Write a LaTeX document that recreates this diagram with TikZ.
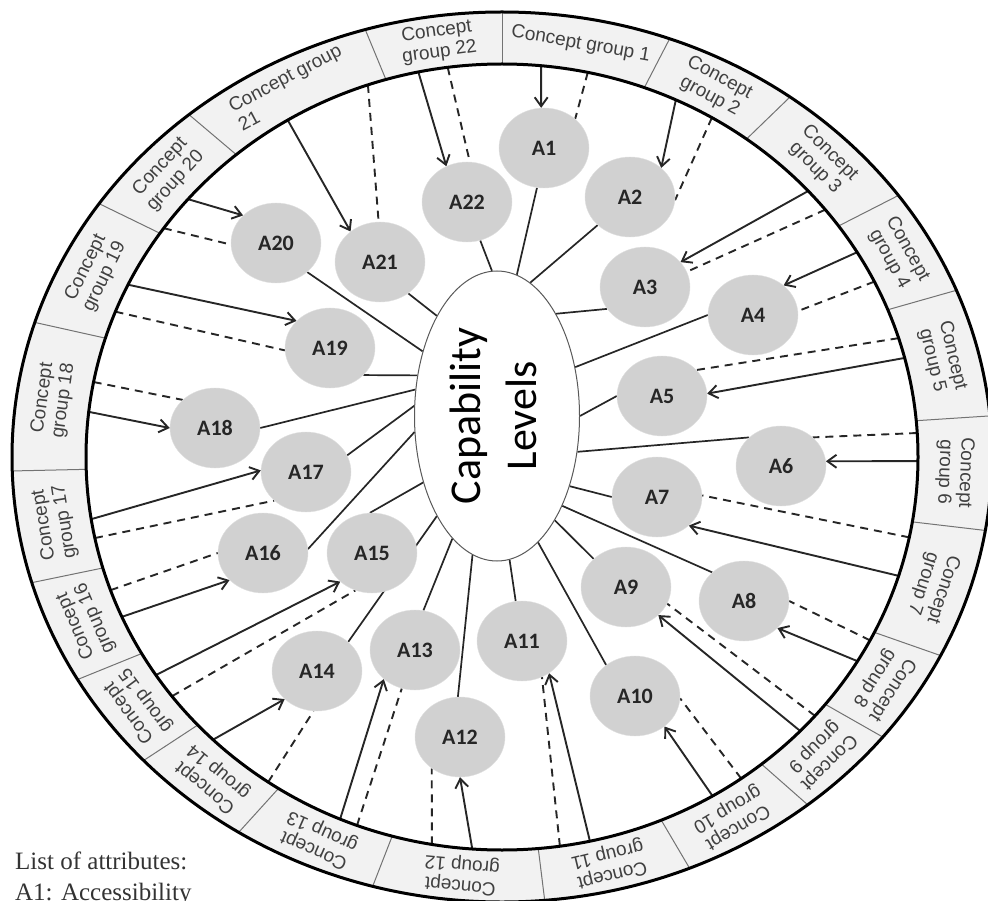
\documentclass[tikz,border=0pt]{standalone}
\usepackage{fontspec}
\setmainfont{Liberation Serif}
\newfontfamily\ringfont{Liberation Sans}
\newfontfamily\calfont{Carlito}
\usepackage{graphicx}
\usetikzlibrary{arrows.meta, shapes.geometric}
\pgfdeclarelayer{background}
\pgfsetlayers{background,main}

\begin{document}
\begin{tikzpicture}[
    x=1pt, y=1pt,
    >={Straight Barb[length=9pt, width=13pt]},
    attr/.style={draw=black!12, fill=black!18, ellipse, inner sep=0pt,
                 minimum width=90pt, minimum height=80pt,
                 font=\calfont\bfseries\fontsize{22}{26}\selectfont, text=black!85},
    capnode/.style={draw=black!65, line width=1pt, fill=white, ellipse,
                    inner sep=0pt, minimum width=165pt, minimum height=290pt,
                    font=\calfont\fontsize{44}{56}\selectfont},
    grouplabel/.style={font=\ringfont\fontsize{19}{21}\selectfont,
                       text=black!75, inner sep=0pt},
    link/.style={->, line width=1.9pt, black!85},
    weak/.style={line width=1.9pt, black!85, dash pattern=on 8pt off 6pt},
    spoke/.style={line width=1.7pt, black!85}
  ]
  \useasboundingbox (0,0) rectangle (988,-901);

  % Ring of concept groups
  \begin{scope}[shift={(502,-457)}]
    \fill[black!5, even odd rule] (0,0) ellipse [x radius=490pt, y radius=445pt]
                                  (0,0) ellipse [x radius=416pt, y radius=393pt];
    \foreach \s in {90,70,54,36,22,5.3,-9.5,-26.5,-39,-51.4,-67.5,-85,-105.3,
                    -122.5,-137,-150,-163.6,-178.2,-197.6,-214.7,-230.3,-253.8}
      \draw[black!55, line width=1pt] (\s:416pt and 393pt) -- (\s:490pt and 445pt);
    \draw[line width=3pt] (0,0) ellipse [x radius=490pt, y radius=445pt];
    \draw[line width=3pt] (0,0) ellipse [x radius=416pt, y radius=393pt];

    \foreach \k/\a/\t/\al in {1/80/{Concept group 1}/center,
        2/62/{Concept\\group 2}/center, 3/45/{Concept\\group 3}/center,
        4/29/{Concept\\group 4}/center, 5/13.65/{Concept\\group 5}/center,
        6/-2.1/{Concept\\group 6}/center, 7/-18/{Concept\\group 7}/center,
        8/-32.75/{Concept\\group 8}/center, 9/-45.2/{Concept\\group 9}/center,
        10/-59.45/{Concept\\group 10}/center, 11/-76.25/{Concept\\group 11}/center,
        12/-95.15/{Concept\\group 12}/center, 13/-113.9/{Concept\\group 13}/center,
        14/-129.75/{Concept\\group 14}/center, 15/-143.5/{Concept\\group 15}/center,
        16/-156.8/{Concept\\group 16}/center, 17/-170.9/{Concept\\group 17}/center,
        18/-187.9/{Concept\\group 18}/center, 19/-206.15/{Concept\\group 19}/center,
        20/-222.5/{Concept\\group 20}/center, 21/-242.05/{Concept group\\21}/left,
        22/-261.9/{Concept\\group 22}/center}
      \node[grouplabel, align=\al, rotate=\a-90] (cg\k) at (\a:453pt and 419pt) {\t};

    % where the links leave the ring
    \foreach \k/\s/\d in {1/84.6/78.1, 2/65.3/59.7, 3/42.6/39, 4/31.4/26.5,
        5/14.6/17.6, 6/-0.6/3.5, 7/-17.6/-11.8, 8/-31.3/-27.8, 9/-44.2/-41.2,
        10/-59.6/-54.9, 11/-77.8/-82, 12/-94.1/-99.7, 13/-112.9/-110.4,
        14/-134/-124.2, 15/-146.3/-142.5, 16/-156/-160.2, 17/-170.9/-168.1,
        18/173.4/169, 19/154/158.3, 20/139/144.4, 21/121/108.8, 22/101.6/97.5} {
      \coordinate (s\k) at (\s:416pt and 393pt);
      \coordinate (d\k) at (\d:416pt and 393pt);
    }
  \end{scope}

  % Centre
  \node[capnode] (cap) at (497,-416)
    {\rotatebox{90}{\begin{tabular}{@{}c@{}}Capability\\Levels\end{tabular}}};

  % Attributes
  \node[attr] (A1) at (544,-148) {A1};
  \node[attr] (A2) at (630,-197) {A2};
  \node[attr] (A3) at (645,-287) {A3};
  \node[attr] (A4) at (753,-315) {A4};
  \node[attr] (A5) at (662,-396) {A5};
  \node[attr] (A6) at (781,-466) {A6};
  \node[attr] (A7) at (657,-497) {A7};
  \node[attr] (A8) at (744,-601) {A8};
  \node[attr] (A9) at (626,-587) {A9};
  \node[attr] (A10) at (635,-696) {A10};
  \node[attr] (A11) at (522,-641) {A11};
  \node[attr] (A12) at (460,-737) {A12};
  \node[attr] (A13) at (415,-650) {A13};
  \node[attr] (A14) at (317,-671) {A14};
  \node[attr] (A15) at (372,-553) {A15};
  \node[attr] (A16) at (263,-553) {A16};
  \node[attr] (A17) at (306,-472) {A17};
  \node[attr] (A18) at (215,-428) {A18};
  \node[attr] (A19) at (330,-348) {A19};
  \node[attr] (A20) at (276,-243) {A20};
  \node[attr] (A21) at (380,-262) {A21};
  \node[attr] (A22) at (467,-202) {A22};

  \begin{pgfonlayer}{background}
    % group -> attribute
    \foreach \k/\e/\f in {1/94/43, 2/43/-4, 3/35/20, 4/44/5, 5/3/37, 6/6/42,
        7/-42/2, 8/-39/0, 9/-41/-22, 10/-46/-3, 11/-50/-61, 12/-90/-132,
        13/-137/-109, 14/-139/-95, 15/-138/-114, 16/-141/180, 17/178/-138,
        18/180/139, 19/141/183, 20/140/182, 21/134/92, 22/120/86} {
      \draw[link] (s\k) -- (A\k.\e);
      \draw[weak] (d\k) -- (A\k.\f);
    }
    % attribute -> capability levels
    \foreach \k/\p/\a in {1/-100/82, 2/-139/76, 3/-150/60, 4/180/32, 5/180/0,
        6/138/-24, 7/180/-44, 8/138/-54, 9/139/-61, 10/133/-72, 11/99/-85,
        12/93/-100, 13/78/-110, 14/43/-121, 15/93/-138, 16/5/-169, 17/22/173,
        18/0/162, 19/-39/153, 20/-43/139, 21/-48/121, 22/-71/92}
      \draw[spoke] (A\k.\p) -- (cap.\a);
  \end{pgfonlayer}

  \node[font=\fontsize{25}{31}\selectfont, text=black!80, align=left,
        anchor=north west, inner sep=0pt] (legend) at (15,-852)
    {List of attributes:\\A1: Accessibility};
\end{tikzpicture}
\end{document}
